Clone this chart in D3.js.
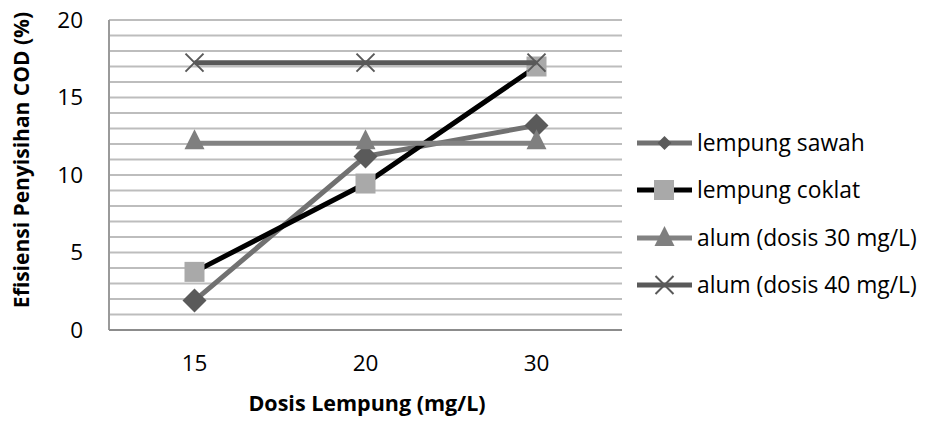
<!DOCTYPE html>
<html><head><meta charset="utf-8">
<script src="https://cdn.jsdelivr.net/npm/d3@7"></script>
<style>body{margin:0;background:#fff}svg{display:block}text{font-family:"Open Sans",sans-serif}</style>
</head><body><svg id="c" width="925" height="423"></svg>
<script>
const categories = ["15", "20", "30"];
const seriesNames = ["lempung sawah", "lempung coklat", "alum (dosis 30 mg/L)", "alum (dosis 40 mg/L)"];
const lempungSawah = [1.9, 11.2, 13.2];
const lempungCoklat = [3.75, 9.45, 17.0];
const alum30 = [12.05, 12.05, 12.05];
const alum40 = [17.25, 17.25, 17.25];
const yTicks = [0, 5, 10, 15, 20];
const xTitle = "Dosis Lempung (mg/L)";
const yTitle = "Efisiensi Penyisihan COD (%)";

const styles = [
  {line:"#717171", marker:"#5a5a5a", shape:"diamond"},
  {line:"#000000", marker:"#a9a9a9", shape:"square"},
  {line:"#828282", marker:"#7f7f7f", shape:"triangle"},
  {line:"#595959", marker:"#595959", shape:"x"}
];
const data = [lempungSawah, lempungCoklat, alum30, alum40];

const svg = d3.select("#c");
const L = 109, R = 622, T = 20, B = 330;
const x = d3.scaleBand().domain(categories).range([L, R]);
const y = d3.scaleLinear().domain([0, 20]).range([B, T]);

const grid = d3.range(1, 21);
svg.append("g").selectAll("line").data(grid).join("line")
  .attr("x1", L).attr("x2", R).attr("y1", d => y(d)).attr("y2", d => y(d))
  .attr("stroke", "#bdbdbd").attr("stroke-width", 2);

svg.append("line").attr("x1", L).attr("x2", L).attr("y1", T).attr("y2", B).attr("stroke", "#9a9a9a").attr("stroke-width", 2);
svg.append("line").attr("x1", L).attr("x2", R).attr("y1", B).attr("y2", B).attr("stroke", "#8c8c8c").attr("stroke-width", 2);

const yAxis = d3.axisLeft(y).tickValues(yTicks).tickSize(0).tickPadding(26);
const gy = svg.append("g").attr("transform", `translate(${L},0)`).call(yAxis);
gy.select(".domain").remove();
gy.selectAll("text").attr("font-size", 22.5).attr("fill", "#000").style("font-family", '"Open Sans",sans-serif');

const xAxis = d3.axisBottom(x).tickSize(0).tickPadding(25);
const gx = svg.append("g").attr("transform", `translate(0,${B})`).call(xAxis);
gx.select(".domain").remove();
gx.selectAll("text").attr("font-size", 22.5).attr("fill", "#000").style("font-family", '"Open Sans",sans-serif');

svg.append("text").attr("x", 367).attr("y", 411).attr("text-anchor", "middle")
  .attr("font-size", 21.5).attr("font-weight", "bold").text(xTitle);
svg.append("text").attr("transform", "translate(29,160) rotate(-90)").attr("text-anchor", "middle")
  .attr("font-size", 21).attr("font-weight", "bold").text(yTitle);

const cx = c => x(c) + x.bandwidth() / 2;
function marker(g, shape, color, px, py) {
  if (shape === "diamond") {
    g.append("path").attr("d", `M${px},${py-12}L${px+12},${py}L${px},${py+12}L${px-12},${py}Z`).attr("fill", color);
  } else if (shape === "square") {
    g.append("rect").attr("x", px-10).attr("y", py-10).attr("width", 20).attr("height", 20).attr("fill", color);
  } else if (shape === "triangle") {
    g.append("path").attr("d", `M${px},${py-14}L${px+10},${py+6}L${px-10},${py+6}Z`).attr("fill", color);
  } else {
    g.append("path").attr("d", `M${px-9},${py-9}L${px+9},${py+9}M${px+9},${py-9}L${px-9},${py+9}`).attr("stroke", color).attr("stroke-width", 2);
  }
}

const line = d3.line().x((d, i) => cx(categories[i])).y(d => y(d));
data.forEach((vals, si) => {
  const g = svg.append("g");
  g.append("path").attr("d", line(vals)).attr("fill", "none").attr("stroke", styles[si].line).attr("stroke-width", 5);
  vals.forEach((v, i) => marker(g, styles[si].shape, styles[si].marker, cx(categories[i]), y(v)));
});

const legY = [143, 190, 238, 285];
seriesNames.forEach((name, i) => {
  const g = svg.append("g");
  g.append("line").attr("x1", 637).attr("x2", 692).attr("y1", legY[i]).attr("y2", legY[i]).attr("stroke", styles[i].line).attr("stroke-width", 5);
  const s = styles[i];
  if (s.shape === "diamond") {
    g.append("path").attr("d", `M664.5,${legY[i]-7}L671.5,${legY[i]}L664.5,${legY[i]+7}L657.5,${legY[i]}Z`).attr("fill", s.marker);
  } else if (s.shape === "square") {
    g.append("rect").attr("x", 654).attr("y", legY[i]-10).attr("width", 20).attr("height", 20).attr("fill", s.marker);
  } else if (s.shape === "triangle") {
    marker(g, "triangle", s.marker, 664.5, legY[i]+2);
  } else {
    marker(g, "x", s.marker, 664.5, legY[i]);
  }
  g.append("text").attr("x", 697).attr("y", legY[i]).attr("dy", "0.35em").attr("font-size", 22.8).text(name);
});
</script></body></html>
